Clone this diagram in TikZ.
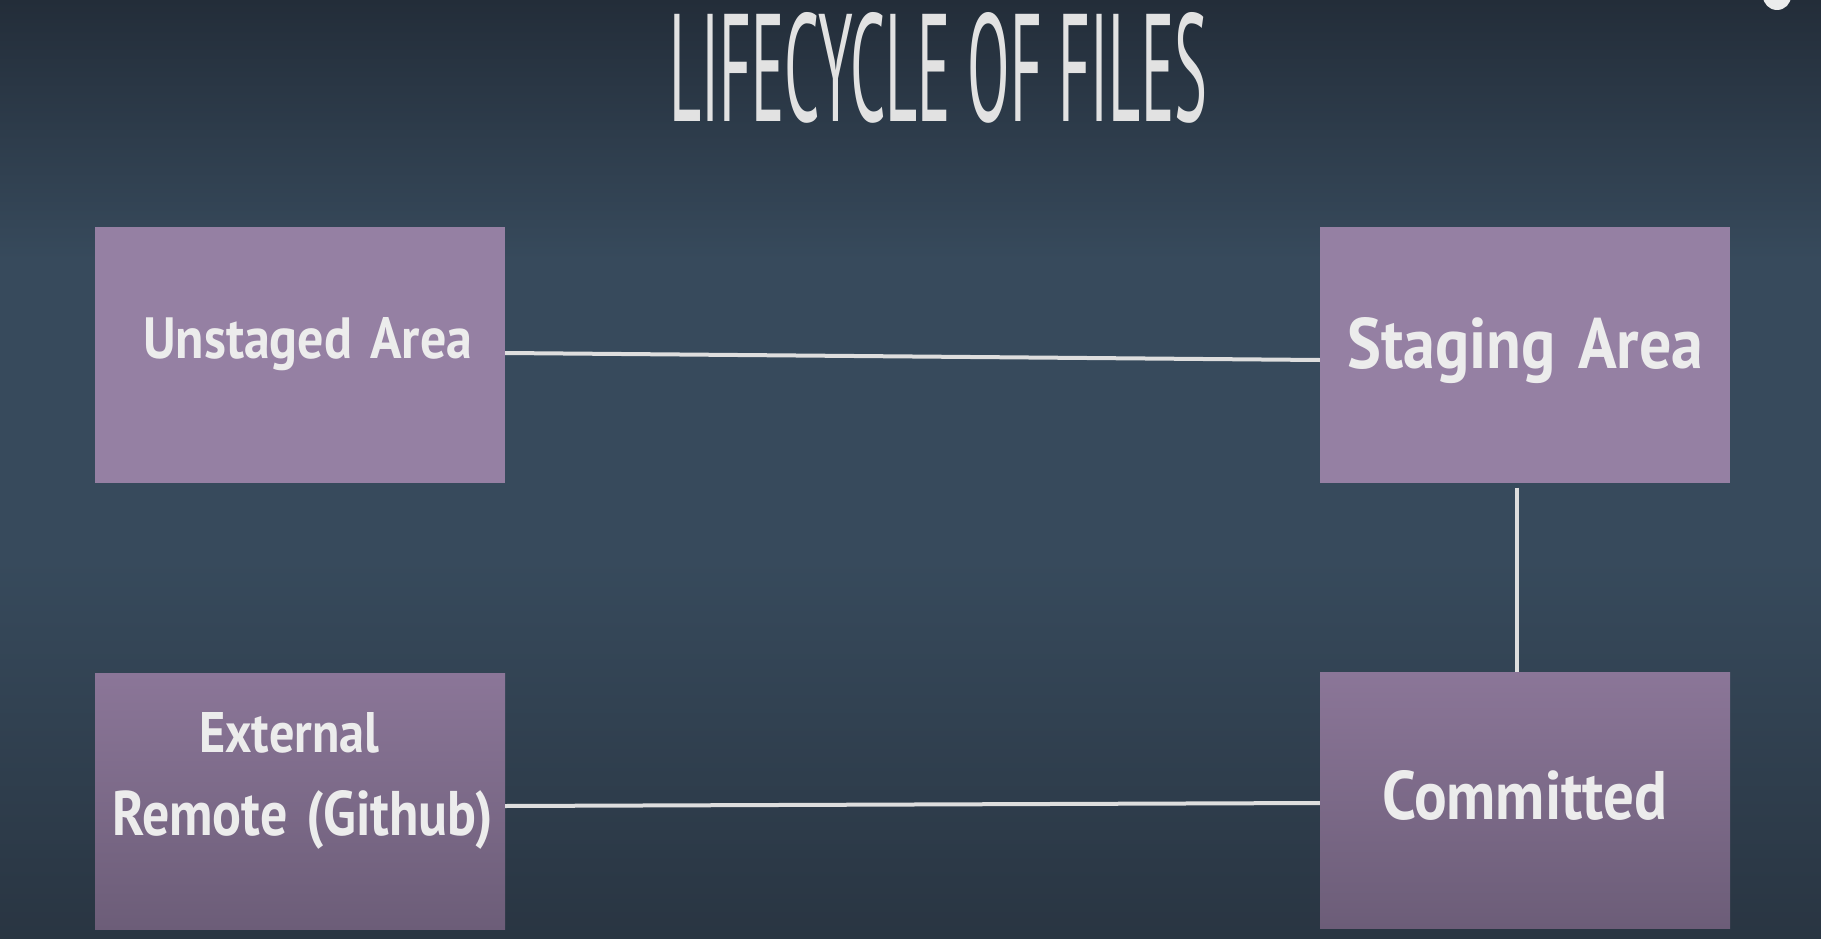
\documentclass[tikz,border=0pt]{standalone}
\usepackage{fontspec}
\setmainfont{PT Sans}
\usepackage{graphicx}
\definecolor{bgtop}{HTML}{232D39}
\definecolor{bgmid}{HTML}{374A5C}
\definecolor{bgbot}{HTML}{293542}
\definecolor{boxup}{HTML}{9580A3}
\definecolor{boxlowtop}{HTML}{8B7698}
\definecolor{boxlowbot}{HTML}{6C5D78}
\definecolor{txt}{HTML}{ECECEC}
\definecolor{ttl}{HTML}{E2E2E2}
\definecolor{wire}{HTML}{DEDEDE}
\tikzset{
  box/.style={rectangle, inner sep=0pt, draw=none, minimum width=410pt, minimum height=256pt},
  upbox/.style={box, fill=boxup},
  lowbox/.style={box, top color=boxlowtop, bottom color=boxlowbot},
  lbl/.style={anchor=base west, inner sep=0pt, text=txt, font=\bfseries},
  conn/.style={draw=wire, line width=4pt}
}
\begin{document}
\begin{tikzpicture}[x=1pt,y=-1pt]
\useasboundingbox (0,0) rectangle (1821,939);
\clip (0,0) rectangle (1821,939);
\shade[top color=bgtop, bottom color=bgmid] (0,0) rectangle (1821,260);
\fill[bgmid] (0,259) rectangle (1821,560);
\shade[top color=bgmid, bottom color=bgbot] (0,559) rectangle (1821,939);
\fill[txt] (1777,-4) circle (14);
% title
\node[anchor=base west, inner sep=0pt, text=ttl] (title) at (669,122)
  {\resizebox{538pt}{109pt}{LIFECYCLE OF FILES}};
% boxes
\node[upbox] (unstaged) at (300,355) {};
\node[upbox] (staging) at (1525,354.5) {};
\node[lowbox] (remote) at (300,801.5) {};
\node[lowbox] (committed) at (1525,800) {};
% labels
\node[lbl] (unstagedT) at (143,358) {\resizebox{329pt}{41pt}{Unstaged\hspace{0.35em}Area}};
\node[lbl] (stagingT) at (1347,368) {\resizebox{356pt}{51pt}{Staging\hspace{0.35em}Area}};
\node[lbl] (committedT) at (1382,819) {\resizebox{285pt}{49pt}{Committed}};
\node[lbl] (externalT) at (199,752) {\resizebox{180pt}{40pt}{External}};
\node[lbl] (remoteT) at (112,835) {\resizebox{381pt}{45pt}{Remote\hspace{0.35em}(Github)}};
% connectors
\draw[conn] ([yshift=2pt]unstaged.east) -- ([yshift=-5.5pt]staging.west);
\draw[conn] ([xshift=-8pt,yshift=-5pt]staging.south) -- ([xshift=-8pt]committed.north);
\draw[conn] ([yshift=-4.5pt]remote.east) -- ([yshift=-3pt]committed.west);
\end{tikzpicture}
\end{document}
